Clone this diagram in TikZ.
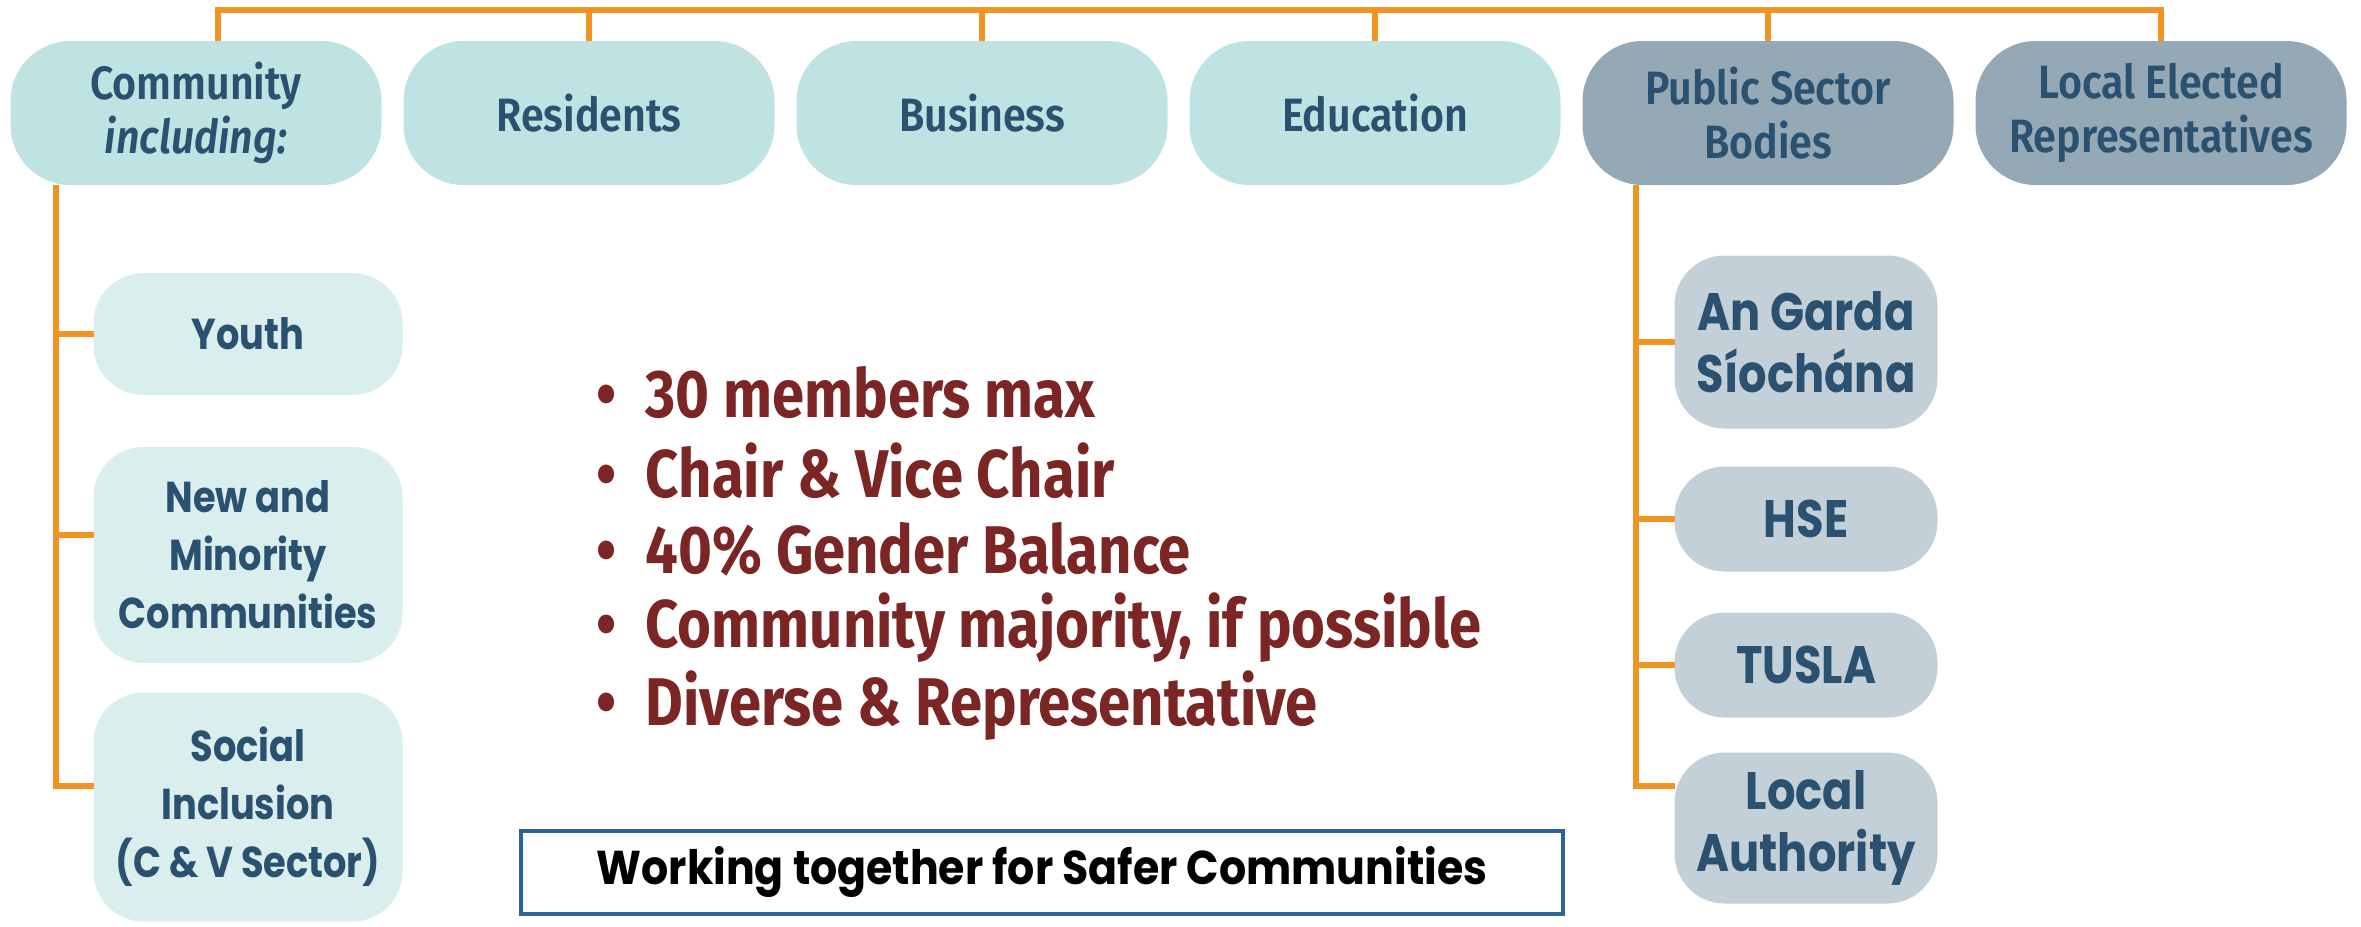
\documentclass[tikz,border=0pt]{standalone}
\usepackage{fontspec}
\setmainfont{Fira Sans}
\newfontfamily\headfont[FakeStretch=0.88, ItalicFont={Fira Sans SemiBold Italic}]{Fira Sans SemiBold}
\newfontfamily\pointfont[FakeStretch=0.86]{Fira Sans Bold}
\newfontfamily\subfont[FakeStretch=0.85]{Poppins Bold}
\newfontfamily\bannerfont[FakeStretch=0.9]{Poppins Bold}
\usetikzlibrary{positioning}

\definecolor{orangeline}{HTML}{F29423}
\definecolor{tealbox}{HTML}{BFE3E3}
\definecolor{tealpale}{HTML}{DAEEEE}
\definecolor{slatebox}{HTML}{94A9B5}
\definecolor{slatepale}{HTML}{C3D0D8}
\definecolor{navytext}{HTML}{2A5170}
\definecolor{pointred}{HTML}{7B2525}
\definecolor{bannerblue}{HTML}{2B6496}

\begin{document}
\begin{tikzpicture}[node distance=0.22cm]
    \tikzstyle{group} = [rectangle, rounded corners=0.6cm, fill=tealbox, text=navytext, font=\headfont\fontsize{13.3}{15.5}\selectfont, align=center, minimum width=3.71cm, minimum height=1.44cm, inner sep=2pt, outer sep=0pt]
    \tikzstyle{body} = [group, fill=slatebox]
    \tikzstyle{member} = [rectangle, rounded corners=0.5cm, fill=tealpale, text=navytext, font=\subfont\fontsize{12.3}{16.5}\selectfont, align=center, minimum width=3.09cm, inner sep=2pt, outer sep=0pt]
    \tikzstyle{agency} = [member, fill=slatepale, minimum width=2.63cm, font=\subfont\fontsize{15}{17.5}\selectfont]
    \tikzstyle{link} = [orangeline, line width=1.6pt]
    \tikzstyle{point} = [anchor=west, text=pointred, font=\pointfont\fontsize{19.2}{22}\selectfont, inner sep=0pt]

    \useasboundingbox (0,0) rectangle (23.61,-9.26);

    % top row
    \node [group] (community) at (1.96,-1.13) {Community\\\textit{including:}};
    \node [group, right=of community] (residents) {Residents};
    \node [group, right=of residents] (business) {Business};
    \node [group, right=of business] (education) {Education};
    \node [body, right=of education] (public) {Public Sector\\Bodies};
    \node [body, right=of public] (elected) {Local Elected\\Representatives};

    \coordinate (bar) at (11.5,-0.10);
    \draw [link] ([xshift=2.2mm]community.north) |- (bar) -| (elected.north);
    \foreach \n in {residents,business,education,public}
        \draw [link] (\n.north) -- (\n.north |- bar);

    % community side
    \node [member, minimum height=1.22cm] (youth) at (2.48,-3.34) {Youth};
    \node [member, minimum height=2.16cm] (minority) at (2.48,-5.55) {New and\\Minority\\Communities};
    \node [member, minimum height=2.29cm] (social) at (2.48,-8.07) {Social\\Inclusion\\(C \& V Sector)};

    \coordinate (ltrunk) at ([xshift=-14mm]community.south);
    \draw [link] (ltrunk) |- ([yshift=2.1mm]social.west);
    \draw [link] (youth.west) -- (youth.west -| ltrunk);
    \draw [link] ([yshift=2mm]minority.west) -- ([yshift=2mm]minority.west -| ltrunk);

    % public sector side
    \node [agency, minimum height=1.73cm] (garda) at (18.06,-3.42) {An Garda\\Síochána};
    \node [agency, minimum height=1.05cm, below=0.38cm of garda] (hse) {HSE};
    \node [agency, minimum height=1.05cm, below=0.41cm of hse] (tusla) {TUSLA};
    \node [agency, minimum height=1.51cm, below=0.35cm of tusla] (authority) {Local\\Authority};

    \coordinate (rtrunk) at ([xshift=-13.2mm]public.south);
    \draw [link] (rtrunk) |- ([yshift=4.2mm]authority.west);
    \foreach \n in {garda,hse,tusla}
        \draw [link] (\n.west) -- (\n.west -| rtrunk);

    % membership rules
    \foreach \t [count=\i] in {30 members max, Chair \& Vice Chair, 40\% Gender Balance, {Community majority, if possible}, Diverse \& Representative}
        \node [point] (point\i) at (5.96,{-3.92-0.785*(\i-1)}) {\makebox[0.49cm][l]{\textbullet}\t};

    \node [draw=bannerblue, line width=1pt, minimum width=10.42cm, minimum height=0.83cm, font=\bannerfont\fontsize{13.5}{16}\selectfont] (motto) at (10.42,-8.725) {Working together for Safer Communities};
\end{tikzpicture}
\end{document}
